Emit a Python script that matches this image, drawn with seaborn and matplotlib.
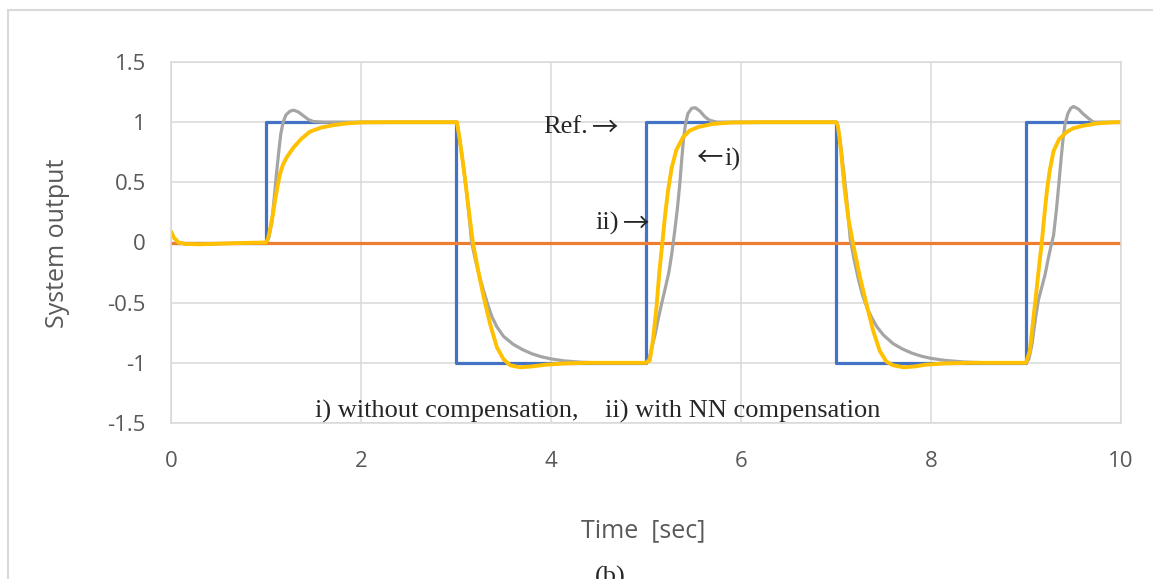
import matplotlib
matplotlib.use("Agg")
import matplotlib.pyplot as plt
import seaborn as sns
from matplotlib.patches import Rectangle

# reference square wave
ref_t = [0, 1, 1, 3, 3, 5, 5, 7, 7, 9, 9, 10]
ref_y = [0, 0, 1, 1, -1, -1, 1, 1, -1, -1, 1, 1]

# orange series (flat at zero)
zero_t = [0, 10]
zero_y = [0, 0]

# i) without compensation (gray)
gray_t = [0, 0.03, 0.08, 0.15, 0.3, 0.5, 0.8, 1.0,
          1.03, 1.06, 1.09, 1.11, 1.135, 1.155, 1.18, 1.21, 1.25, 1.29, 1.34, 1.39, 1.45, 1.5, 1.6,
          3.0, 3.01, 3.04, 3.08, 3.11, 3.14, 3.165, 3.2, 3.25, 3.29, 3.34, 3.38, 3.43, 3.5, 3.6, 3.7,
          3.8, 3.9, 4.0, 4.13, 4.3, 4.5,
          5.0, 5.03, 5.06, 5.1, 5.13, 5.17, 5.2, 5.24, 5.27, 5.3, 5.33, 5.355, 5.375, 5.395, 5.415,
          5.44, 5.48, 5.52, 5.57, 5.62, 5.67, 5.75,
          7.0, 7.01, 7.04, 7.08, 7.11, 7.15, 7.19, 7.24, 7.28, 7.33, 7.38, 7.43, 7.5, 7.6, 7.7, 7.8,
          7.9, 8.0, 8.15, 8.35, 8.6,
          9.0, 9.03, 9.06, 9.1, 9.13, 9.17, 9.2, 9.23, 9.26, 9.29, 9.32, 9.345, 9.37, 9.39, 9.41,
          9.44, 9.47, 9.5, 9.55, 9.6, 9.66, 9.71, 10.0]
gray_y = [0.09, 0.04, 0.0, -0.012, -0.015, -0.01, -0.003, 0,
          0.04, 0.16, 0.40, 0.57, 0.76, 0.90, 1.0, 1.06, 1.09, 1.10, 1.085, 1.055, 1.02, 1.005, 1.0,
          1.0, 1.0, 0.85, 0.62, 0.43, 0.2, 0.0, -0.13, -0.29, -0.40, -0.53, -0.62, -0.70, -0.78, -0.845,
          -0.89, -0.925, -0.95, -0.967, -0.983, -0.994, -1.0,
          -1.0, -0.97, -0.88, -0.75, -0.63, -0.49, -0.39, -0.25, -0.1, 0.08, 0.28, 0.48, 0.68, 0.86,
          0.98, 1.07, 1.115, 1.12, 1.09, 1.045, 1.015, 1.0,
          1.0, 1.0, 0.87, 0.6, 0.38, 0.03, -0.14, -0.32, -0.44, -0.55, -0.63, -0.70, -0.77, -0.84,
          -0.885, -0.92, -0.945, -0.963, -0.98, -0.993, -1.0,
          -1.0, -0.97, -0.86, -0.63, -0.48, -0.36, -0.27, -0.15, -0.04, 0.06, 0.27, 0.48, 0.7, 0.86,
          0.98, 1.07, 1.115, 1.13, 1.11, 1.07, 1.03, 1.0, 1.0]

# ii) with NN compensation (yellow)
yel_t = [0, 0.03, 0.08, 0.15, 0.3, 0.5, 0.8, 1.0,
         1.02, 1.04, 1.07, 1.095, 1.12, 1.147, 1.18, 1.22, 1.29, 1.37, 1.46, 1.58, 1.71, 1.85, 2.0, 2.3,
         3.0, 3.01, 3.04, 3.08, 3.11, 3.15, 3.18, 3.235, 3.29, 3.36, 3.43, 3.5, 3.57, 3.67, 3.8, 3.95,
         4.15, 4.4,
         5.0, 5.04, 5.075, 5.11, 5.14, 5.175, 5.2, 5.23, 5.27, 5.32, 5.39, 5.46, 5.55, 5.7, 5.9, 6.2,
         7.0, 7.02, 7.05, 7.09, 7.13, 7.18, 7.25, 7.32, 7.39, 7.46, 7.53, 7.6, 7.71, 7.83, 7.95, 8.15,
         8.4,
         9.0, 9.04, 9.075, 9.11, 9.14, 9.165, 9.19, 9.22, 9.25, 9.29, 9.35, 9.43, 9.5, 9.6, 9.75, 9.9,
         10.0]
yel_y = [0.09, 0.04, 0.0, -0.012, -0.015, -0.01, -0.003, 0,
         0.03, 0.1, 0.22, 0.35, 0.46, 0.57, 0.65, 0.71, 0.79, 0.86, 0.92, 0.955, 0.975, 0.99, 0.998, 1.0,
         1.0, 1.0, 0.85, 0.62, 0.43, 0.17, -0.01, -0.24, -0.45, -0.68, -0.87, -0.97, -1.02, -1.037, -1.03, -1.015,
         -1.005, -1.0,
         -1.0, -0.98, -0.8, -0.54, -0.25, 0.02, 0.22, 0.42, 0.62, 0.77, 0.875, 0.93, 0.96, 0.985, 0.997, 1.0,
         1.0, 0.97, 0.78, 0.45, 0.2, -0.01, -0.28, -0.51, -0.73, -0.9, -0.99, -1.02, -1.037, -1.03, -1.015, -1.005,
         -1.0,
         -1.0, -0.9, -0.65, -0.4, -0.18, -0.01, 0.2, 0.43, 0.6, 0.76, 0.86, 0.92, 0.95, 0.97, 0.99, 0.998,
         1.0]

x_ticks = [0, 2, 4, 6, 8, 10]
x_labels = ["0", "2", "4", "6", "8", "10"]
y_ticks = [-1.5, -1, -0.5, 0, 0.5, 1, 1.5]
y_labels = ["-1.5", "-1", "-0.5", "0", "0.5", "1", "1.5"]

sns.set_style("white")
plt.rcParams['font.family'] = ['Open Sans', 'DejaVu Sans']
serif = ['Liberation Serif', 'DejaVu Serif']
arrowfont = ['Noto Sans CJK KR', 'DejaVu Sans']

W, H = 1153, 579
fig = plt.figure(figsize=(W / 100, H / 100), dpi=100)
ax = fig.add_axes([171 / W, 1 - 423 / H, (1121 - 171) / W, (423 - 62) / H])

kw = dict(ax=ax, sort=False, estimator=None, legend=False)
sns.lineplot(x=ref_t, y=ref_y, color='#4472C4', lw=2.3, **kw)
sns.lineplot(x=zero_t, y=zero_y, color='#ED7D31', lw=2.3, **kw)
sns.lineplot(x=gray_t, y=gray_y, color='#A5A5A5', lw=2.3, **kw)
sns.lineplot(x=yel_t, y=yel_y, color='#FFC000', lw=2.8, **kw)
for ln in ax.lines:
    ln.set_solid_joinstyle('round')
    ln.set_solid_capstyle('round')

ax.set_xlim(0, 10)
ax.set_ylim(-1.5, 1.5)
ax.set_xticks(x_ticks)
ax.set_xticklabels(x_labels)
ax.set_yticks(y_ticks)
ax.set_yticklabels(y_labels)
ax.tick_params(length=0, labelsize=16, labelcolor='#595959')
ax.tick_params(axis='x', pad=20)
ax.tick_params(axis='y', pad=18)
ax.grid(True, color='#D9D9D9', lw=1.1)
ax.set_axisbelow(True)
for s in ax.spines.values():
    s.set_color('#D9D9D9')
    s.set_linewidth(1.1)

fig.text(643 / W, 1 - 531 / H, 'Time  [sec]', ha='center', va='center', fontsize=18, color='#595959')
fig.text(57 / W, 1 - 243 / H, 'System output', ha='center', va='center', rotation=90,
         fontsize=18, color='#595959')


def ptext(x, y, s, ha, fam):
    fig.text(x / W, 1 - y / H, s, ha=ha, va='center', fontsize=19, family=fam)


# annotations (pixel positions)
ptext(588, 127, 'Ref.', 'right', serif)
ptext(592, 128, '\u2192', 'left', arrowfont)
ptext(722, 158, '\u2190', 'right', arrowfont)
ptext(724, 159, 'i)', 'left', serif)
ptext(619, 223, 'ii)', 'right', serif)
ptext(623, 224, '\u2192', 'left', arrowfont)
ax.text(4.49, -1.40, 'i) without compensation,    ii) with NN compensation', ha='center',
        va='center', fontsize=19, family=serif)

fig.text(610 / W, 1 - 566 / H, '(b)', ha='center', va='top', fontsize=19, family=serif)

# outer chart frame
fig.patches.append(Rectangle((8 / W, -0.1), 1.2, 1 - 10 / H + 0.1, transform=fig.transFigure,
                             fill=False, ec='#D9D9D9', lw=1.5))

fig.savefig('out.png', dpi=100)
